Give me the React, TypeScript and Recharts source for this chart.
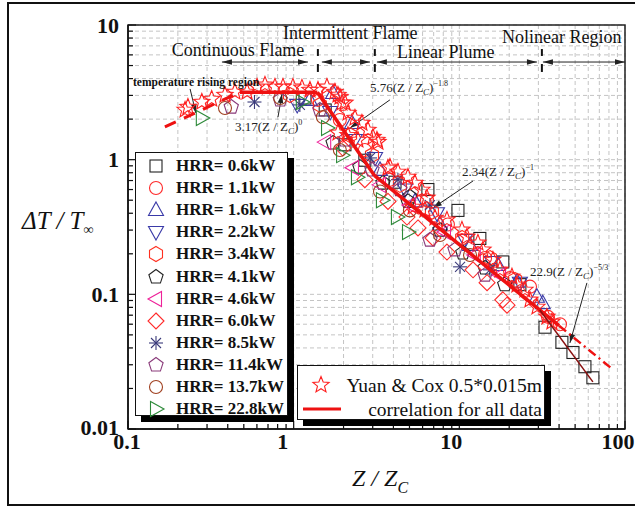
import React from 'react';
import { ScatterChart, Scatter, XAxis, YAxis, CartesianGrid, ReferenceLine, ReferenceDot, ReferenceArea } from 'recharts';

const SERIF = '"Liberation Serif", "Times New Roman", serif';

// axis ticks (log decades + minor steps)
const xTicks = [0.1, 0.2, 0.3, 0.4, 0.5, 0.6, 0.7, 0.8, 0.9, 1, 2, 3, 4, 5, 6, 7, 8, 9, 10, 20, 30, 40, 50, 60, 70, 80, 90, 100];
const yTicks = [0.01, 0.02, 0.03, 0.04, 0.05, 0.06, 0.07, 0.08, 0.09, 0.1, 0.2, 0.3, 0.4, 0.5, 0.6, 0.7, 0.8, 0.9, 1, 2, 3, 4, 5, 6, 7, 8, 9, 10];
const xMajor = [0.1, 1, 10, 100];
const yMajor = [0.01, 0.1, 1, 10];
const xLabelShift: Record<string, number> = { '0.1': -1, '1': -11, '10': -8, '100': -7 };

// measured series, [Z/Zc, dT/Tinf]
const hrr06 = [[1.17, 2.87], [1.55, 2.34], [2.04, 1.29], [2.69, 0.99], [4.09, 0.68], [6.46, 0.6], [9.81, 0.42], [13.3, 0.26], [18.3, 0.174], [23.2, 0.118], [32.9, 0.057], [41.6, 0.044], [48.5, 0.037], [57.3, 0.029], [64.0, 0.024]];
const hrr11 = [[1.4, 2.78], [1.9, 1.97], [2.69, 1.18], [3.81, 0.71], [6.38, 0.5], [8.53, 0.33], [14.3, 0.186], [20.2, 0.132], [26.7, 0.114], [34.3, 0.068], [40.5, 0.06]];
const hrr16 = [[1.25, 2.78], [1.73, 3.13], [2.25, 1.87], [3.32, 0.84], [5.4, 0.49], [7.64, 0.33], [11.6, 0.233], [17.1, 0.165], [22.3, 0.124], [29.4, 0.096], [31.9, 0.086]];
const hrr22 = [[1.05, 2.55], [1.66, 2.26], [2.34, 1.4], [3.1, 1.03], [4.7, 0.6], [7.33, 0.4], [10.8, 0.253], [15.7, 0.174], [23.2, 0.122]];
const hrr34 = [[0.95, 3.02], [1.44, 2.55], [2.19, 1.52], [2.97, 1.08], [4.38, 0.65], [6.83, 0.41], [10.4, 0.262], [15.3, 0.186], [21.7, 0.128]];
const hrr41 = [[1.73, 1.33], [2.51, 0.88], [3.46, 0.67], [4.9, 0.49], [5.03, 0.53], [7.64, 0.3], [10.5, 0.203], [14.3, 0.157], [18.8, 0.118]];
const hrr46 = [[1.55, 1.35], [2.28, 0.87], [3.32, 0.65], [5.03, 0.46], [8.19, 0.29], [12.4, 0.196], [17.6, 0.139]];
const hrr60 = [[1.98, 1.22], [2.69, 0.71], [3.71, 0.49], [4.83, 0.375], [5.63, 0.311], [6.93, 0.262], [8.42, 0.206], [12.1, 0.152], [14.7, 0.122], [18.3, 0.091], [19.4, 0.083]];
const hrr85 = [[0.58, 2.68], [1.09, 2.55], [2.89, 1.03], [4.26, 0.71], [6.65, 0.46], [10.1, 0.16], [15.3, 0.152]];
const hrr114 = [[0.42, 2.46], [0.83, 2.78], [1.44, 2.34], [2.04, 1.4], [2.97, 0.84], [4.38, 0.6], [6.65, 0.253], [9.41, 0.214], [14.3, 0.139]];
const hrr137 = [[0.385, 2.42], [0.83, 2.87], [1.5, 2.07], [1.9, 1.18], [3.32, 0.58], [5.03, 0.42], [7.64, 0.276], [11.6, 0.196]];
const hrr228 = [[0.279, 2.04], [1.12, 2.68], [1.59, 1.72], [1.96, 1.08], [2.41, 0.74], [3.41, 0.5], [4.2, 0.375], [4.9, 0.29]];
const yuanCox = [[0.221, 2.34], [0.23, 2.46], [0.279, 2.68], [0.32, 2.82], [0.385, 3.02], [0.442, 3.18], [0.523, 3.18], [0.601, 3.47], [0.671, 3.59], [0.771, 3.47], [0.862, 3.47], [0.99, 3.47], [1.122, 3.41], [1.254, 3.29], [1.402, 3.29], [1.588, 3.47], [1.775, 3.18], [1.851, 3.02], [1.903, 2.92], [1.956, 2.64], [2.04, 2.64], [2.127, 2.22], [2.344, 2.04], [2.583, 1.87], [2.808, 1.66], [3.01, 1.47], [3.227, 1.35], [1.851, 1.58], [2.127, 1.52], [2.443, 1.4], [3.182, 1.4], [3.707, 0.868], [3.812, 0.883], [4.261, 0.811], [4.897, 0.744], [5.25, 0.445], [5.395, 0.671], [5.947, 0.596], [6.375, 0.52], [6.2, 0.423], [7.124, 0.369], [8.419, 0.357], [10.37, 0.301], [11.11, 0.267], [12.95, 0.241], [13.88, 0.214], [15.95, 0.18], [17.58, 0.152], [20.78, 0.135], [22.27, 0.1175], [24.89, 0.1078], [26.68, 0.0909], [29.41, 0.0806], [33.78, 0.068], [36.21, 0.0624]];

// correlation segments
const fitRising = [[0.167, 1.75], [0.474, 3.17]];
const fitPlateau = [[0.474, 3.17], [1.39, 3.17]];
const fitIntermittent = [[1.39, 3.17], [3.08, 0.76]];
const fitPlume = [[3.08, 0.76], [40, 0.0585]];
const fitPlumeExt = [[40, 0.0585], [85, 0.0275]];
const fitNonlinear = [[30.6, 0.0765], [64, 0.0224]];

// annotations
const regionLabels = [
  { text: 'Continuous Flame', x: 0.184, y: 5.89 },
  { text: 'Intermittent Flame', x: 0.862, y: 7.87 },
  { text: 'Linear Plume', x: 4.2, y: 5.69 },
  { text: 'Nolinear Region', x: 18.1, y: 7.35 },
];
const regionBounds = [1.4, 3.09, 31.5];
const regionArrows = [[0.369, 1.22], [1.48, 2.89], [3.18, 29.4], [31.95, 100]];
const formulas = [
  { coef: '3.17', exp: '0', x: 0.442, y: 1.63 },
  { coef: '5.76', exp: '\u22121.8', x: 2.89, y: 3.18 },
  { coef: '2.34', exp: '\u22121', x: 10.37, y: 0.757 },
  { coef: '22.9', exp: '\u22125/3', x: 26.7, y: 0.137 },
];
const pointers = [
  [[0.237, 3.35], [0.257, 2.22]],
  [[0.804, 2.07], [0.85, 3.07]],
  [[3.81, 2.78], [2.19, 1.72]],
  [[12.1, 0.695], [6.93, 0.438]],
  [[58.9, 0.1216], [46.5, 0.0436]],
];

const toPts = (arr: number[][]) => arr.map(([x, y]) => ({ x, y }));

const hrrSeries = [
  { name: 'HRR= 0.6kW', data: hrr06, kind: 'square', color: '#222222' },
  { name: 'HRR= 1.1kW', data: hrr11, kind: 'circle', color: '#ff2a2a' },
  { name: 'HRR= 1.6kW', data: hrr16, kind: 'up', color: '#3a3aa8' },
  { name: 'HRR= 2.2kW', data: hrr22, kind: 'down', color: '#3a3aa8' },
  { name: 'HRR= 3.4kW', data: hrr34, kind: 'hexagon', color: '#ff3020' },
  { name: 'HRR= 4.1kW', data: hrr41, kind: 'pentagon', color: '#222222' },
  { name: 'HRR= 4.6kW', data: hrr46, kind: 'left', color: '#ee2299' },
  { name: 'HRR= 6.0kW', data: hrr60, kind: 'diamond', color: '#ff2a2a' },
  { name: 'HRR= 8.5kW', data: hrr85, kind: 'asterisk', color: '#3a3a7a' },
  { name: 'HRR= 11.4kW', data: hrr114, kind: 'pentagon', color: '#8a3a7a' },
  { name: 'HRR= 13.7kW', data: hrr137, kind: 'circle', color: '#a04020' },
  { name: 'HRR= 22.8kW', data: hrr228, kind: 'right', color: '#2e8a3a' },
];

const poly = (cx: number, cy: number, pts: number[][]) => pts.map(([dx, dy]) => `${cx + dx},${cy + dy}`).join(' ');
const regular = (n: number, r: number) =>
  Array.from({ length: n }, (_, i) => {
    const a = (-90 + (360 / n) * i) * Math.PI / 180;
    return [r * Math.cos(a), r * Math.sin(a)];
  });
const starPts = (ro: number, ri: number) =>
  Array.from({ length: 10 }, (_, i) => {
    const a = (-90 + 36 * i) * Math.PI / 180;
    const r = i % 2 === 0 ? ro : ri;
    return [r * Math.cos(a), r * Math.sin(a)];
  });

function Marker({ kind, cx, cy, color }: { kind: string; cx: number; cy: number; color: string }) {
  const common = { fill: 'none', stroke: color, strokeWidth: 1.1 };
  switch (kind) {
    case 'square': return <rect x={cx - 6} y={cy - 6} width={12} height={12} {...common} />;
    case 'circle': return <circle cx={cx} cy={cy} r={6.5} {...common} />;
    case 'up': return <polygon points={poly(cx, cy, [[0, -8], [7.5, 5.5], [-7.5, 5.5]])} {...common} />;
    case 'down': return <polygon points={poly(cx, cy, [[0, 8], [7.5, -5.5], [-7.5, -5.5]])} {...common} />;
    case 'left': return <polygon points={poly(cx, cy, [[-8, 0], [5.5, -7.5], [5.5, 7.5]])} {...common} />;
    case 'right': return <polygon points={poly(cx, cy, [[8, 0], [-5.5, -7.5], [-5.5, 7.5]])} {...common} />;
    case 'diamond': return <polygon points={poly(cx, cy, [[0, -8], [8, 0], [0, 8], [-8, 0]])} {...common} />;
    case 'hexagon': return <polygon points={poly(cx, cy, regular(6, 7.5))} {...common} />;
    case 'pentagon': return <polygon points={poly(cx, cy, regular(5, 7.5))} {...common} />;
    case 'star': return <polygon points={poly(cx, cy, starPts(8.5, 3.7))} {...common} />;
    case 'asterisk':
      return (
        <g stroke={color} strokeWidth={1.1}>
          <line x1={cx - 7} y1={cy} x2={cx + 7} y2={cy} />
          <line x1={cx} y1={cy - 7} x2={cx} y2={cy + 7} />
          <line x1={cx - 5} y1={cy - 5} x2={cx + 5} y2={cy + 5} />
          <line x1={cx - 5} y1={cy + 5} x2={cx + 5} y2={cy - 5} />
        </g>
      );
    default: return <g />;
  }
}

const head = (x1: number, y1: number, x2: number, y2: number, len = 9, half = 3) => {
  const a = Math.atan2(y2 - y1, x2 - x1);
  const bx = x2 - len * Math.cos(a);
  const by = y2 - len * Math.sin(a);
  const px = -Math.sin(a) * half;
  const py = Math.cos(a) * half;
  return `M${x2},${y2} L${bx + px},${by + py} L${bx - px},${by - py} Z`;
};

const PointerShape = (p: any) => (
  <g>
    <line x1={p.x1} y1={p.y1} x2={p.x2} y2={p.y2} stroke="#222" strokeWidth={1} />
    <path d={head(p.x1, p.y1, p.x2, p.y2, 9, 2.8)} fill="#222" />
  </g>
);
const DoubleArrowShape = (p: any) => (
  <g>
    <line x1={p.x1} y1={p.y1} x2={p.x2} y2={p.y2} stroke="#222" strokeWidth={1} />
    <path d={head(p.x1, p.y1, p.x2, p.y2, 10, 2.8)} fill="#222" />
    <path d={head(p.x2, p.y2, p.x1, p.y1, 10, 2.8)} fill="#222" />
  </g>
);

const XTick = (p: any) => {
  const { x, y, payload } = p;
  const v = payload.value;
  const major = xMajor.includes(v);
  return (
    <g>
      <line x1={x} y1={y} x2={x} y2={y - (major ? 8 : 5)} stroke="#111" strokeWidth={1.2} />
      {major && (
        <text x={x + (xLabelShift[String(v)] || 0)} y={y + 20} textAnchor="middle" fontFamily={SERIF} fontWeight="bold" fontSize={22} fill="#111">
          {String(v)}
        </text>
      )}
    </g>
  );
};

const YTick = (p: any) => {
  const { x, y, payload } = p;
  const v = payload.value;
  const major = yMajor.includes(v);
  return (
    <g>
      <line x1={x} y1={y} x2={x + (major ? 8 : 5)} y2={y} stroke="#111" strokeWidth={1.2} />
      {major && (
        <text x={x - 9} y={y + (v === 0.01 ? 5.5 : 7.5)} textAnchor="end" fontFamily={SERIF} fontWeight="bold" fontSize={22} fill="#111">
          {String(v)}
        </text>
      )}
    </g>
  );
};

const noDot = () => <g />;

export default function App() {
  return (
    <div style={{ position: 'relative', width: 635, height: 506, background: '#fff', overflow: 'hidden' }}>
      <style>{'body{margin:0}'}</style>
      <div style={{ position: 'absolute', left: 7, top: 2, width: 660, height: 500, borderLeft: '2px solid #111', borderTop: '2px solid #111', borderBottom: '2px solid #111' }} />
      <ScatterChart width={635} height={506} margin={{ top: 25, right: 10, bottom: 47, left: 68 }}>
        <CartesianGrid stroke="#c4c4c4" strokeDasharray="4 3" />
        <XAxis
          dataKey="x" type="number" scale="log" domain={[0.1, 100]} allowDataOverflow
          ticks={xTicks} interval={0} tickSize={0} tickMargin={0} tick={<XTick />}
          axisLine={{ stroke: '#111', strokeWidth: 1.5 }} tickLine={false}
          label={{
            content: () => (
              <text x={352} y={486} fontFamily={SERIF} fontStyle="italic" fontSize={24} fill="#111">
                Z / Z<tspan fontSize={16} dy={7}>C</tspan>
              </text>
            ),
          }}
        />
        <YAxis
          dataKey="y" type="number" scale="log" domain={[0.01, 10]} allowDataOverflow
          ticks={yTicks} interval={0} tickSize={0} tickMargin={0} tick={<YTick />}
          axisLine={{ stroke: '#111', strokeWidth: 1.5 }} tickLine={false}
          label={{
            content: () => (
              <text x={22} y={229} fontFamily={SERIF} fontStyle="italic" fontSize={25} fill="#111">
                {'\u0394T / T'}<tspan fontSize={14} dy={5}>{'\u221e'}</tspan>
              </text>
            ),
          }}
        />
        <ReferenceArea x1={0.1} x2={100} y1={0.01} y2={10} fill="none" stroke="#222" strokeWidth={1.5} ifOverflow="visible" />

        {hrrSeries.map((s) => (
          <Scatter
            key={s.name}
            name={s.name}
            data={toPts(s.data)}
            isAnimationActive={false}
            shape={(p: any) => <Marker kind={s.kind} cx={p.cx} cy={p.cy} color={s.color} />}
          />
        ))}
        <Scatter
          name="Yuan & Cox 0.5*0.015m"
          data={toPts(yuanCox)}
          isAnimationActive={false}
          shape={(p: any) => <Marker kind="star" cx={p.cx} cy={p.cy} color="#ff2020" />}
        />

        <Scatter data={toPts(fitRising)} isAnimationActive={false} shape={noDot} line={{ stroke: '#ee1111', strokeWidth: 3, strokeDasharray: '12 9' }} />
        <Scatter data={toPts(fitPlateau)} isAnimationActive={false} shape={noDot} line={{ stroke: '#ee1111', strokeWidth: 3.5 }} />
        <Scatter data={toPts(fitIntermittent)} isAnimationActive={false} shape={noDot} line={{ stroke: '#ee1111', strokeWidth: 3.5 }} />
        <Scatter data={toPts(fitPlume)} isAnimationActive={false} shape={noDot} line={{ stroke: '#ee1111', strokeWidth: 3.5 }} />
        <Scatter data={toPts(fitPlumeExt)} isAnimationActive={false} shape={noDot} line={{ stroke: '#ee1111', strokeWidth: 2.5, strokeDasharray: '9 4 2 4' }} />
        <Scatter data={toPts(fitNonlinear)} isAnimationActive={false} shape={noDot} line={{ stroke: '#8a1010', strokeWidth: 1.5 }} />

        {regionBounds.map((b) => (
          <ReferenceLine key={'a' + b} segment={[{ x: b, y: 6.63 }, { x: b, y: 5.89 }]} stroke="#111" strokeWidth={2} ifOverflow="visible" />
        ))}
        {regionBounds.map((b) => (
          <ReferenceLine key={'b' + b} segment={[{ x: b, y: 5.13 }, { x: b, y: 4.48 }]} stroke="#111" strokeWidth={2} ifOverflow="visible" />
        ))}
        {regionArrows.map(([a, b]) => (
          <ReferenceLine key={'r' + a} segment={[{ x: a, y: 5.31 }, { x: b, y: 5.31 }]} shape={DoubleArrowShape} ifOverflow="visible" />
        ))}
        {regionLabels.map((r) => (
          <ReferenceDot
            key={r.text} x={r.x} y={r.y} r={0} ifOverflow="visible"
            shape={(p: any) => (
              <text x={p.cx} y={p.cy} fontFamily={SERIF} fontSize={18} fill="#111">{r.text}</text>
            )}
          />
        ))}
        <ReferenceDot
          x={0.1072} y={3.53} r={0} ifOverflow="visible"
          shape={(p: any) => (
            <text x={p.cx} y={p.cy} fontFamily={SERIF} fontWeight="bold" fontSize={11.5} fill="#111">temperature rising region</text>
          )}
        />
        {formulas.map((f) => (
          <ReferenceDot
            key={f.coef} x={f.x} y={f.y} r={0} ifOverflow="visible"
            shape={(p: any) => (
              <text x={p.cx} y={p.cy} fontFamily={SERIF} fontSize={13} fill="#222">
                {f.coef}(Z / Z<tspan fontSize={9} fontStyle="italic" dy={3}>C</tspan>
                <tspan dy={-3}>)</tspan>
                <tspan fontSize={8} dy={-6}>{f.exp}</tspan>
              </text>
            )}
          />
        ))}
        {pointers.map(([a, b], i) => (
          <ReferenceLine key={'p' + i} segment={[{ x: a[0], y: a[1] }, { x: b[0], y: b[1] }]} shape={PointerShape} ifOverflow="visible" />
        ))}
      </ScatterChart>

      {/* HRR legend */}
      <div style={{ position: 'absolute', left: 135, top: 152, width: 153, height: 264, boxSizing: 'border-box', border: '1px solid #111', background: '#fff', boxShadow: '6px 6px 0 #000' }}>
        {hrrSeries.map((s, i) => (
          <div key={s.name} style={{ position: 'absolute', left: 0, top: 13 + i * 22.1 - 11, height: 22, width: 151 }}>
            <svg width={30} height={22} style={{ position: 'absolute', left: 5, top: 0 }}>
              <Marker kind={s.kind} cx={15} cy={11} color={s.color} />
            </svg>
            <span style={{ position: 'absolute', left: 40, top: 0, lineHeight: '22px', fontFamily: SERIF, fontWeight: 'bold', fontSize: 17, color: '#111', whiteSpace: 'nowrap' }}>
              {s.name}
            </span>
          </div>
        ))}
      </div>

      {/* Yuan & Cox / correlation legend */}
      <div style={{ position: 'absolute', left: 297, top: 365, width: 248, height: 55, boxSizing: 'border-box', border: '1px solid #111', background: '#fff', boxShadow: '6px 6px 0 #000' }}>
        <svg width={248} height={55} style={{ position: 'absolute', left: 0, top: 0 }}>
          <Marker kind="star" cx={23} cy={19} color="#ff2020" />
          <line x1={5} y1={43} x2={43} y2={43} stroke="#ee1111" strokeWidth={3} />
          <text x={244} y={26} textAnchor="end" fontFamily={SERIF} fontSize={19.5} fill="#111">Yuan &amp; Cox 0.5*0.015m</text>
          <text x={244} y={50} textAnchor="end" fontFamily={SERIF} fontSize={19.5} fill="#111">correlation for all data</text>
        </svg>
      </div>
    </div>
  );
}
